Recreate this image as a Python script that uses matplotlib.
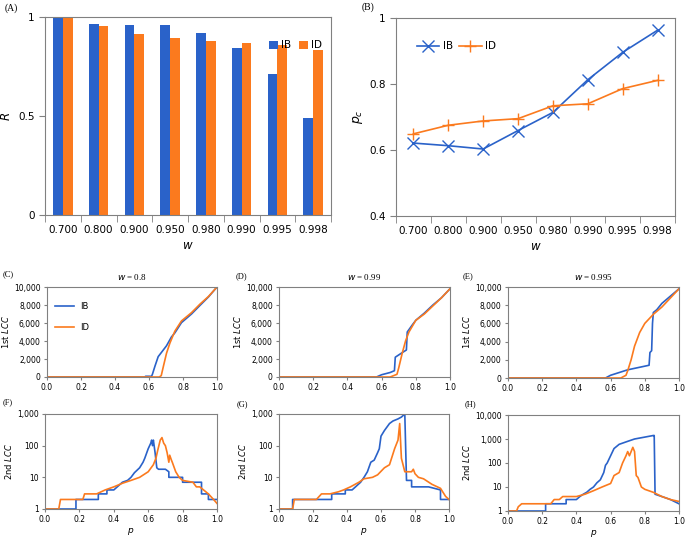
import numpy as np
import matplotlib.pyplot as plt
from matplotlib.ticker import FuncFormatter, FixedLocator

W, H = 685, 541
BLUE = '#2a62c9'
ORANGE = '#fb7a1e'

# ---------------- data ----------------
w_labels = ['0.700', '0.800', '0.900', '0.950', '0.980', '0.990', '0.995', '0.998']
R_IB = [1.0, 0.966, 0.961, 0.96, 0.921, 0.841, 0.71, 0.492]
R_ID = [1.0, 0.953, 0.914, 0.892, 0.877, 0.867, 0.86, 0.833]
pc_IB = [0.621, 0.613, 0.603, 0.659, 0.714, 0.813, 0.896, 0.963]
pc_ID = [0.649, 0.675, 0.688, 0.695, 0.734, 0.74, 0.786, 0.811]

# (C) w = 0.8, 1st LCC
c_ib_p = [0.0, 0.575, 0.58, 0.615, 0.62, 0.635, 0.654, 0.684, 0.703, 0.732, 0.752, 0.791, 0.85, 0.898, 0.95, 1.0]
c_ib_v = [0, 0, 80, 80, 300, 1200, 2260, 3000, 3470, 4450, 4900, 6040, 7000, 7920, 8900, 10000]
c_id_p = [0.0, 0.66, 0.672, 0.684, 0.703, 0.723, 0.752, 0.791, 0.85, 0.9, 0.95, 1.0]
c_id_v = [0, 0, 150, 1130, 2640, 3770, 5090, 6230, 7150, 8100, 8950, 10000]
# (F) w = 0.8, 2nd LCC
f_ib_p = [0.0, 0.18, 0.18, 0.31, 0.31, 0.36, 0.36, 0.4, 0.42, 0.45, 0.48, 0.5, 0.52, 0.55, 0.57, 0.58, 0.6, 0.615, 0.62, 0.625, 0.63, 0.64, 0.65, 0.66, 0.7, 0.72, 0.72, 0.8, 0.8, 0.85, 0.91, 0.91, 0.95, 0.95, 1.0]
f_ib_v = [1, 1, 2, 2, 3, 3, 4, 4, 5, 7, 8, 10, 14, 20, 30, 40, 80, 120, 150, 100, 150, 60, 20, 18, 18, 15, 10, 10, 7, 7, 7, 3, 3, 2, 2]
f_id_p = [0.0, 0.08, 0.09, 0.22, 0.23, 0.3, 0.35, 0.4, 0.45, 0.5, 0.55, 0.6, 0.63, 0.645, 0.655, 0.67, 0.68, 0.69, 0.7, 0.71, 0.72, 0.725, 0.735, 0.74, 0.76, 0.78, 0.8, 0.86, 0.88, 0.9, 0.95, 0.98, 1.0]
f_id_v = [1, 1, 2, 2, 3, 3, 4, 5, 6.5, 8, 10, 15, 25, 40, 70, 150, 180, 120, 100, 60, 30, 50, 35, 30, 15, 10, 8, 7, 5, 5, 3, 2, 1.5]

# (D) w = 0.99, 1st LCC
d_ib_p = [0.0, 0.57, 0.6, 0.65, 0.675, 0.68, 0.72, 0.745, 0.75, 0.78, 0.8, 0.85, 0.9, 0.95, 1.0]
d_ib_v = [0, 0, 250, 500, 700, 2200, 2700, 3000, 5000, 5800, 6300, 7100, 8000, 8800, 9800]
d_id_p = [0.0, 0.65, 0.69, 0.7, 0.72, 0.74, 0.76, 0.8, 0.85, 0.9, 0.95, 1.0]
d_id_v = [0, 0, 300, 1000, 2600, 4000, 5000, 6300, 7000, 7900, 8800, 9800]
# (G) w = 0.99, 2nd LCC
g_ib_p = [0.0, 0.08, 0.08, 0.31, 0.31, 0.39, 0.39, 0.43, 0.45, 0.48, 0.5, 0.52, 0.54, 0.56, 0.58, 0.59, 0.6, 0.62, 0.65, 0.67, 0.7, 0.72, 0.74, 0.75, 0.78, 0.78, 0.88, 0.95, 0.95, 1.0]
g_ib_v = [1, 1, 2, 2, 3, 3, 4, 4, 5, 7, 10, 15, 30, 35, 60, 80, 200, 300, 500, 600, 700, 800, 1000, 8, 8, 5, 5, 4, 2, 2]
g_id_p = [0.0, 0.08, 0.09, 0.22, 0.25, 0.3, 0.35, 0.38, 0.42, 0.47, 0.5, 0.55, 0.58, 0.62, 0.65, 0.68, 0.7, 0.71, 0.72, 0.74, 0.78, 0.79, 0.8, 0.82, 0.85, 0.9, 0.95, 0.98, 1.0]
g_id_v = [1, 1, 2, 2, 3, 3, 3.5, 4, 5, 7, 9, 10, 12, 20, 25, 80, 150, 500, 40, 15, 15, 18, 13, 10, 9, 6, 4.5, 2.5, 2]

# (E) w = 0.995, 1st LCC
e_ib_p = [0.0, 0.57, 0.6, 0.65, 0.7, 0.75, 0.8, 0.825, 0.83, 0.84, 0.845, 0.85, 0.87, 0.9, 0.95, 1.0]
e_ib_v = [0, 0, 300, 600, 900, 1100, 1300, 1400, 2800, 3000, 6000, 7200, 7500, 8200, 9000, 9800]
e_id_p = [0.0, 0.66, 0.69, 0.7, 0.72, 0.74, 0.75, 0.77, 0.8, 0.85, 0.9, 0.95, 1.0]
e_id_v = [0, 0, 300, 800, 2000, 3500, 4000, 5000, 6000, 7000, 7800, 8800, 9800]
# (H) w = 0.995, 2nd LCC
h_ib_p = [0.0, 0.22, 0.22, 0.34, 0.34, 0.4, 0.42, 0.44, 0.46, 0.48, 0.5, 0.52, 0.54, 0.56, 0.57, 0.58, 0.6, 0.62, 0.65, 0.7, 0.74, 0.8, 0.85, 0.855, 0.86, 0.9, 0.95, 1.0]
h_ib_v = [1, 1, 2, 2, 3, 3, 4, 5, 6, 8, 10, 15, 20, 40, 80, 100, 200, 400, 600, 800, 1000, 1200, 1400, 1400, 5, 4, 3, 2]
h_id_p = [0.0, 0.05, 0.06, 0.08, 0.25, 0.27, 0.3, 0.32, 0.4, 0.45, 0.5, 0.55, 0.6, 0.62, 0.65, 0.67, 0.69, 0.7, 0.71, 0.73, 0.74, 0.75, 0.76, 0.78, 0.8, 0.85, 0.9, 0.95, 1.0]
h_id_v = [1, 1, 1.5, 2, 2, 3, 3, 4, 4, 5, 7, 10, 14, 30, 40, 100, 200, 300, 200, 450, 300, 30, 25, 10, 8, 6, 4, 3, 2.5]

# ---------------- figure ----------------
fig = plt.figure(figsize=(W / 100, H / 100), dpi=100)

def ax_px(x0, y0, x1, y1):
    return fig.add_axes([x0 / W, 1 - y1 / H, (x1 - x0) / W, (y1 - y0) / H])

def style_box(ax):
    for s in ax.spines.values():
        s.set_color('#808080')
        s.set_linewidth(0.8)

serif = 'Liberation Serif'
comma = FuncFormatter(lambda v, pos: '{:,.0f}'.format(v))

# (A) bar chart
ax = ax_px(45, 17, 331, 215)
x = np.arange(len(w_labels))
bw = 0.27
ax.bar(x - bw / 2, R_IB, bw, color=BLUE, label='IB')
ax.bar(x + bw / 2, R_ID, bw, color=ORANGE, label='ID')
ax.set_xlim(-0.5, len(w_labels) - 0.5)
ax.set_ylim(0, 1)
ax.set_yticks([0, 0.5, 1])
ax.set_yticklabels(['0', '0.5', '1'])
ax.set_xticks(x)
ax.set_xticklabels(w_labels)
ax.tick_params(axis='x', length=0, pad=7, labelsize=7.5)
ax.xaxis.set_minor_locator(FixedLocator(np.arange(-0.5, len(w_labels), 1)))
ax.tick_params(axis='x', which='minor', length=5, color='#808080')
ax.tick_params(axis='y', labelsize=7.5, length=4, color='#808080')
ax.set_ylabel('R', fontsize=8.5, style='italic', labelpad=4)
ax.set_xlabel('w', fontsize=8.5, style='italic', labelpad=3)
style_box(ax)
ax.legend(loc='upper right', frameon=False, fontsize=7.5, handlelength=0.8, handleheight=0.8,
          ncol=2, columnspacing=0.8, handletextpad=0.3, bbox_to_anchor=(1.0, 0.93))
fig.text(5 / W, 1 - 8 / H, '(A)', fontsize=7, family=serif, va='center')

# (B) line chart
ax = ax_px(396, 18, 675, 216)
ax.plot(x, pc_IB, color=BLUE, marker='x', markersize=9, markeredgewidth=1.0, lw=1.2, label='IB')
ax.plot(x, pc_ID, color=ORANGE, marker='+', markersize=9, markeredgewidth=1.0, lw=1.2, label='ID')
ax.set_xlim(-0.5, len(w_labels) - 0.5)
ax.set_ylim(0.4, 1.0)
ax.set_yticks([0.4, 0.6, 0.8, 1.0])
ax.set_yticklabels(['0.4', '0.6', '0.8', '1'])
ax.set_xticks(x)
ax.set_xticklabels(w_labels)
ax.tick_params(axis='x', length=0, pad=7, labelsize=7.5)
ax.xaxis.set_minor_locator(FixedLocator(np.arange(-0.5, len(w_labels), 1)))
ax.tick_params(axis='x', which='minor', length=5, color='#808080')
ax.tick_params(axis='y', labelsize=7.5, length=4, color='#808080')
ax.set_ylabel('$p_c$', fontsize=9, family=serif, labelpad=3)
ax.set_xlabel('w', fontsize=8.5, style='italic', labelpad=3)
style_box(ax)
ax.legend(loc='upper left', frameon=False, fontsize=7.5, ncol=2, handlelength=2.2,
          columnspacing=0.6, handletextpad=0.3, bbox_to_anchor=(0.04, 0.93))
fig.text(362 / W, 1 - 7 / H, '(B)', fontsize=7, family=serif, va='center')

# lower panels
top_specs = [
    ((47, 287, 217, 377), 'w = 0.8', '(C)', (3, 274), c_ib_p, c_ib_v, c_id_p, c_id_v, True),
    ((279, 287, 450, 377), 'w = 0.99', '(D)', (236, 276), d_ib_p, d_ib_v, d_id_p, d_id_v, False),
    ((508, 287, 679, 378), 'w = 0.995', '(E)', (463, 276), e_ib_p, e_ib_v, e_id_p, e_id_v, False),
]
for box, title, lab, lpos, ibp, ibv, idp, idv, leg in top_specs:
    ax = ax_px(*box)
    ax.plot(ibp, ibv, color=BLUE, lw=1.2, label='IB')
    ax.plot(idp, idv, color=ORANGE, lw=1.2, label='ID')
    ax.set_xlim(0, 1)
    ax.set_ylim(0, 10000)
    ax.set_xticks(np.arange(0, 1.01, 0.2))
    ax.xaxis.set_major_formatter(FuncFormatter(lambda v, pos: '{:.1f}'.format(v)))
    ax.set_yticks(np.arange(0, 10001, 2000))
    ax.yaxis.set_major_formatter(comma)
    ax.tick_params(labelsize=5.5, length=2.5, color='#808080', pad=2)
    ax.set_ylabel('1st $\\it{LCC}$', fontsize=6, labelpad=2)
    ax.set_title(title.replace('w', '$w$'), fontsize=6.5, family=serif, pad=5)
    style_box(ax)
    if leg:
        ax.legend(loc='upper left', frameon=False, fontsize=6, handlelength=2.3,
                  labelspacing=1.5, bbox_to_anchor=(0.0, 0.92))
    fig.text(lpos[0] / W, 1 - lpos[1] / H, lab, fontsize=6, family=serif, va='center')

bot_specs = [
    ((45, 414, 217, 509), 1000, '(F)', (3, 402), f_ib_p, f_ib_v, f_id_p, f_id_v),
    ((279, 414, 449, 509), 1000, '(G)', (237, 404), g_ib_p, g_ib_v, g_id_p, g_id_v),
    ((508, 415, 679, 511), 10000, '(H)', (465, 404), h_ib_p, h_ib_v, h_id_p, h_id_v),
]
for box, ymax, lab, lpos, ibp, ibv, idp, idv in bot_specs:
    ax = ax_px(*box)
    ax.plot(ibp, ibv, color=BLUE, lw=1.2)
    ax.plot(idp, idv, color=ORANGE, lw=1.2)
    ax.set_yscale('log')
    ax.set_xlim(0, 1)
    ax.set_ylim(1, ymax)
    ax.set_xticks(np.arange(0, 1.01, 0.2))
    ax.xaxis.set_major_formatter(FuncFormatter(lambda v, pos: '{:.1f}'.format(v)))
    ax.yaxis.set_major_locator(FixedLocator([10 ** k for k in range(int(np.log10(ymax)) + 1)]))
    ax.yaxis.set_minor_locator(FixedLocator([]))
    ax.yaxis.set_major_formatter(comma)
    ax.tick_params(labelsize=5.5, length=2.5, color='#808080', pad=2)
    ax.set_ylabel('2nd $\\it{LCC}$', fontsize=6, labelpad=2)
    ax.set_xlabel('$p$', fontsize=6.5, labelpad=1)
    style_box(ax)
    fig.text(lpos[0] / W, 1 - lpos[1] / H, lab, fontsize=6, family=serif, va='center')

fig.savefig('out.png', dpi=100)
